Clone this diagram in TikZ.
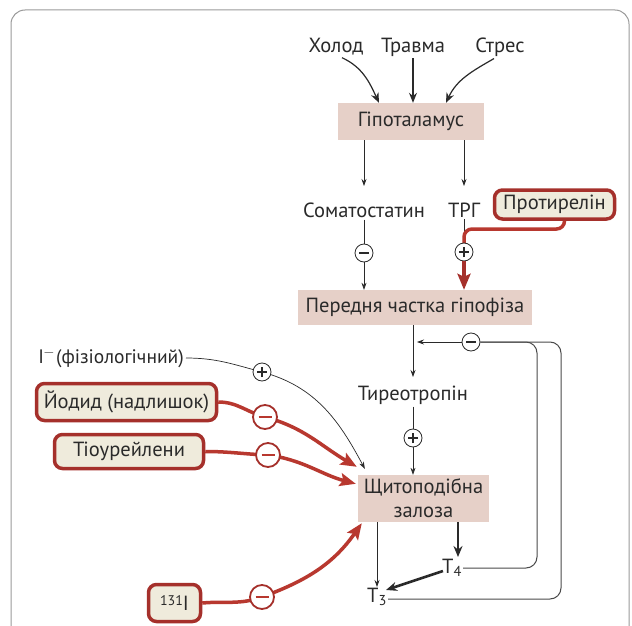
\documentclass[tikz,border=0pt]{standalone}
\usepackage{fontspec}
\setmainfont{PT Sans}
\usetikzlibrary{arrows.meta}
\definecolor{pinkbox}{HTML}{E6D0C8}
\definecolor{beige}{HTML}{EFEBDC}
\definecolor{dred}{HTML}{A5302B}
\definecolor{lred}{HTML}{B8382F}
\definecolor{ink}{HTML}{2A2A2A}
\definecolor{framegray}{HTML}{9A9A9A}
\begin{document}
\begin{tikzpicture}[x=1pt,y=-1pt,
  every node/.style={font=\fontsize{20.5}{24}\selectfont, text=ink},
  lbl/.style={inner sep=2pt},
  pinkb/.style={fill=pinkbox, inner sep=0pt, align=center},
  redb/.style={draw=dred, fill=beige, line width=3.5pt, rounded corners=8pt, inner sep=0pt},
  sgn/.style={circle, draw=ink, fill=white, line width=0.8pt, minimum size=18pt, inner sep=0pt},
  sminus/.style={sgn, path picture={\draw[line width=1.3pt, ink] ([xshift=-5pt]path picture bounding box.center) -- ([xshift=5pt]path picture bounding box.center);}},
  splus/.style={sgn, path picture={\draw[line width=1.3pt, ink] ([xshift=-5pt]path picture bounding box.center) -- ([xshift=5pt]path picture bounding box.center) ([yshift=-5pt]path picture bounding box.center) -- ([yshift=5pt]path picture bounding box.center);}},
  rminus/.style={circle, draw=dred, fill=white, line width=1.8pt, minimum size=24pt, inner sep=0pt, path picture={\draw[line width=2pt, lred] ([xshift=-6.5pt]path picture bounding box.center) -- ([xshift=6.5pt]path picture bounding box.center);}},
  arr/.style={draw=ink, line width=0.7pt, -{Stealth[length=7pt,width=5pt]}},
  thn/.style={draw=ink, line width=0.7pt},
  tharr/.style={draw=ink, line width=2.6pt, -{Stealth[length=11pt,width=9pt]}},
  redln/.style={draw=lred, line width=3.5pt},
  redarr/.style={draw=lred, line width=3.5pt, -{Stealth[length=16pt,width=13pt,inset=3pt]}},
  fbln/.style={draw=ink!85, line width=1pt, rounded corners=11pt}
]
\useasboundingbox (0,0) rectangle (632,626);
\fill[white] (0,0) rectangle (632,626);
\draw[framegray, line width=1pt, rounded corners=14pt] (11,10) rectangle (629,680);

% top stimuli
\node[lbl] (holod) at (336,47) {Холод};
\node[lbl] (travma) at (413,47) {Травма};
\node[lbl] (stres) at (500,47) {Стрес};

% boxes
\node[pinkb, minimum width=146pt, minimum height=37pt] (hypo) at (411,121.5) {Гіпоталамус};
\node[lbl] (somat) at (364,210) {Соматостатин};
\node[lbl] (trg) at (464,210) {ТРГ};
\node[redb, minimum width=120pt, minimum height=29pt] (prot) at (554.5,204.5) {Протирелін};
\node[pinkb, minimum width=234pt, minimum height=35pt] (pered) at (415,307.5) {Передня частка гіпофіза};
\node[lbl] (tireo) at (413,395) {Тиреотропін};
\node[pinkb, minimum width=131pt, minimum height=47pt, font=\fontsize{20.5}{24}\selectfont] (shch) at (423.5,498.5) {Щитоподібна\\залоза};
\node[lbl, inner sep=1pt] (t4) at (452,568) {T\textsubscript{4}};
\node[lbl, inner sep=1pt] (t3) at (377,597) {T\textsubscript{3}};
\node[lbl, anchor=east, font=\fontsize{19.5}{24}\selectfont] (iphys) at (186,358) {I\kern-0.5pt$^{-}$\kern1pt(фізіологічний)};
\node[redb, minimum width=180pt, minimum height=37pt] (iodide) at (126.5,402) {Йодид (надлишок)};
\node[redb, minimum width=149pt, minimum height=34pt] (thio) at (129,451.5) {Тіоурейлени};
\node[redb, minimum width=52pt, minimum height=37pt] (i131) at (174.5,603) {{\fontsize{14}{16}\selectfont\raisebox{5pt}{131}}I};

% coordinates
\coordinate (hl) at ([xshift=-32pt]hypo.north);
\coordinate (hr) at ([xshift=35pt]hypo.north);
\coordinate (tb) at (464,229);
\coordinate (fbend) at (415,342);
\coordinate (c1) at (537,342);
\coordinate (c2) at (561,342);
\coordinate (tipI) at ([shift={(7pt,6pt)}]shch.north west);
\coordinate (tipA) at ([shift={(-1pt,8pt)}]shch.north west);
\coordinate (tipB) at ([shift={(-2pt,-9pt)}]shch.north west);
\coordinate (tipC) at ([shift={(4pt,-1pt)}]shch.south west);
\coordinate (t4top) at (458,557);

% stimuli arrows
\draw[arr, line width=1.2pt, -{Stealth[length=10pt,width=8pt]}] ([xshift=6pt]holod.south) to[out=-25,in=115] (hl);
\draw[arr, line width=1.2pt, -{Stealth[length=10pt,width=8pt]}] (travma.south) -- (travma.south |- hypo.north);
\draw[arr, line width=1.2pt, -{Stealth[length=10pt,width=8pt]}] ([xshift=-6pt]stres.south) to[out=-150,in=65] (hr);

% hypothalamus outputs
\draw[arr] (hypo.south -| somat) -- (364,186);
\draw[arr] (hypo.south -| trg) -- (464,186);

\draw[thn] (somat.south) -- (364,253);
\draw[thn] (trg.south) -- (464,252);
\draw[redln, rounded corners=8pt] ([xshift=10pt]prot.south) |- (tb) -- (464,252);

\node[sminus] (sm) at (364,253) {};
\node[splus] (tp) at (464,252) {};
\draw[arr] (sm) -- (sm |- pered.north);
\draw[redarr, draw=dred] (tp) -- (tp |- pered.north);

% pituitary to TSH
\draw[arr] (pered.south -| tireo) -- (413,377);
\node[splus] (ti) at (413,438) {};
\draw[thn] (tireo.south) -- (ti);
\draw[arr] (ti) -- (ti |- shch.north);

% feedback
\node[sminus] (fb) at (471,342) {};
\draw[fbln] (t4.east) -| (c1) -- (fb.east);
\draw[fbln] ([yshift=-2pt]t3.east) -| (c2) -- (fb.east);
\draw[arr] (fb.west) -- ([xshift=2pt]fbend);

% thyroid outputs
\draw[arr] (shch.south -| t3) -- (t3.north);
\draw[tharr] (shch.south -| t4top) -- (t4top);
\draw[tharr] ([shift={(2pt,-3pt)}]t4.west) -- ([shift={(-2pt,-3pt)}]t3.north east);

% iodide physiological
\draw[arr] (iphys.east) to[out=0,in=165] (262,372) to[out=-15,in=118] (tipI);
\node[splus] (ip) at (262,372) {};

% red inhibitors
\draw[redarr] (iodide.east) to[out=0,in=165] (265,417) to[out=-15,in=150] (tipA);
\draw[redarr] (thio.east) to[out=0,in=178] (268,455) to[out=-8,in=165] (tipB);
\draw[redarr] (i131.east) to[out=5,in=200] (262,597) to[out=20,in=235] (tipC);
\node[rminus] (r1) at (265,417) {};
\node[rminus] (r2) at (268,455) {};
\node[rminus] (r3) at (262,597) {};
\end{tikzpicture}
\end{document}
